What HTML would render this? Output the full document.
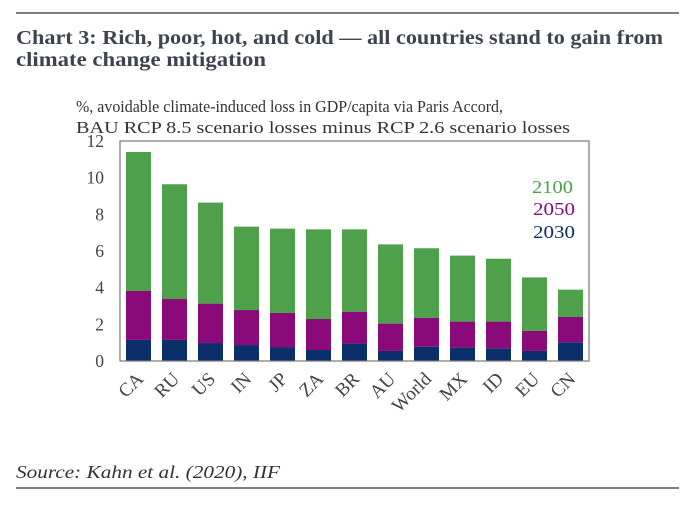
<!DOCTYPE html>
<html><head><meta charset="utf-8"><style>
body{margin:0;background:#fff;width:684px;height:500px;overflow:hidden;font-family:"Liberation Serif",serif;}
</style></head><body>
<svg width="684" height="500">
<line x1="16" y1="13" x2="679" y2="13" stroke="#555" stroke-width="1.5"/>
<text x="16" y="44" font-size="19.5" font-weight="bold" fill="#3d4450" textLength="647" lengthAdjust="spacingAndGlyphs">Chart 3: Rich, poor, hot, and cold — all countries stand to gain from</text>
<text x="16" y="66" font-size="19.5" font-weight="bold" fill="#3d4450" textLength="250" lengthAdjust="spacingAndGlyphs">climate change mitigation</text>
<text x="76" y="112" font-size="17" fill="#333" textLength="427" lengthAdjust="spacingAndGlyphs">%, avoidable climate-induced loss in GDP/capita via Paris Accord,</text>
<text x="76" y="133" font-size="17" fill="#333" textLength="494" lengthAdjust="spacingAndGlyphs">BAU RCP 8.5 scenario losses minus RCP 2.6 scenario losses</text>
<g id="plot"></g>
<text x="573" y="193" font-size="18" fill="#4ea04a" text-anchor="end" textLength="41" lengthAdjust="spacingAndGlyphs">2100</text>
<text x="575" y="215" font-size="18" fill="#8b0a7a" text-anchor="end" textLength="42" lengthAdjust="spacingAndGlyphs">2050</text>
<text x="575" y="238" font-size="18" fill="#0b2f6b" text-anchor="end" textLength="42" lengthAdjust="spacingAndGlyphs">2030</text>
<text x="16" y="478" font-size="18" font-style="italic" fill="#333" textLength="264" lengthAdjust="spacingAndGlyphs">Source:  Kahn et al. (2020), IIF</text>
<line x1="16" y1="488" x2="679" y2="488" stroke="#555" stroke-width="1.5"/>
</svg>
<script>
const categories=["CA","RU","US","IN","JP","ZA","BR","AU","World","MX","ID","EU","CN"];
const v2030=[1.15,1.15,0.98,0.87,0.76,0.6,0.95,0.55,0.78,0.73,0.69,0.55,1.02];
const v2050=[3.82,3.38,3.13,2.78,2.62,2.29,2.69,2.04,2.36,2.15,2.15,1.64,2.4];
const v2100=[11.4,9.64,8.64,7.33,7.22,7.18,7.18,6.36,6.15,5.75,5.58,4.56,3.89];
const yTicks=[0,2,4,6,8,10,12];
const NS="http://www.w3.org/2000/svg";
const g=document.getElementById('plot');
const L=120,R=589,T=141,B=361,yMax=12;
const y=v=>B-(v/yMax)*(B-T);
const x0=126,step=36,bw=25;
const xb=i=>x0+i*step;
function mk(t,a){const e=document.createElementNS(NS,t);for(const k in a)e.setAttribute(k,a[k]);g.appendChild(e);return e;}
yTicks.forEach(t=>{const e=mk('text',{x:104,y:y(t)+6,'font-size':17.5,fill:'#444','text-anchor':'end'});e.textContent=t;

});
const cols=['#0b2f6b','#8b0a7a','#4ea04a'];
categories.forEach((c,i)=>{
 const segs=[[0,v2030[i]],[v2030[i],v2050[i]],[v2050[i],v2100[i]]];
 segs.forEach((s,j)=>{const r=mk('rect',{x:xb(i),y:y(s[1]),width:bw,height:y(s[0])-y(s[1]),fill:cols[j]});
 
 });
 const cx=xb(i)+bw/2+6,cy=380;
 const t=mk('text',{x:cx,y:cy,'font-size':19,fill:'#444','text-anchor':'end',transform:`rotate(-45 ${cx} ${cy})`});
 t.textContent=c;
 
 
});
const box=mk('rect',{x:L,y:T,width:R-L,height:B-T,fill:'none',stroke:'#777','stroke-width':1.2});


</script>
</body></html>
